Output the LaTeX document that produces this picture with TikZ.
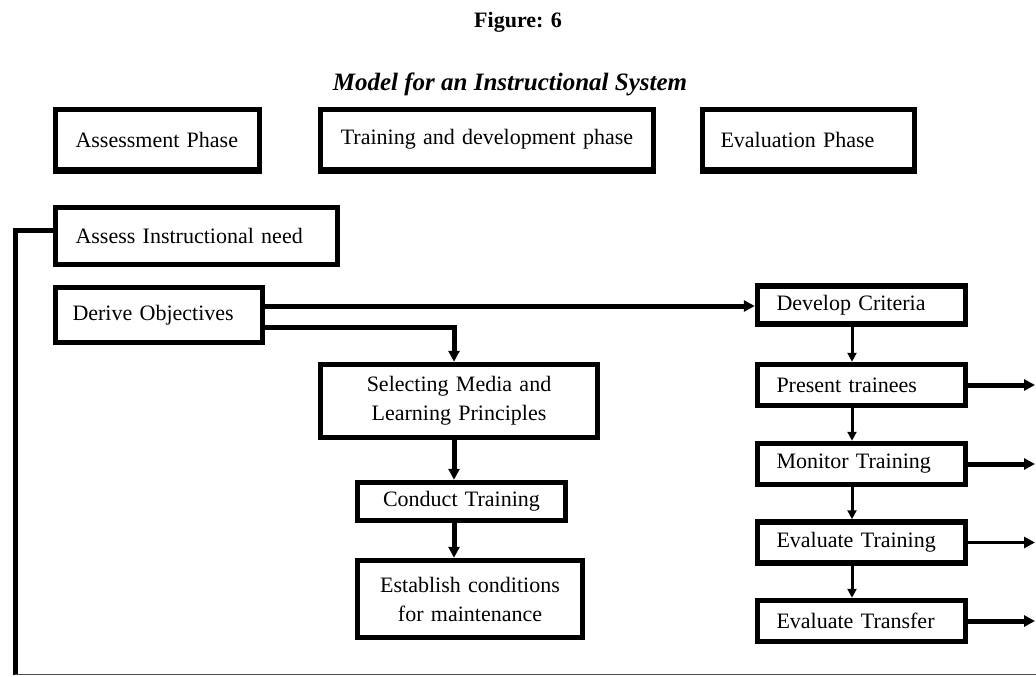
\documentclass[tikz,border=0pt]{standalone}
\usepackage{fontspec}
\setmainfont{Liberation Serif}
\usetikzlibrary{arrows.meta,calc}
\begin{document}
\begin{tikzpicture}[x=1pt,y=-1pt,
  bx/.style={draw,line width=5.5pt,inner xsep=0pt,inner ysep=0pt,font=\fontsize{22}{25}\selectfont},
  lbx/.style={bx,align=left},
  cbx/.style={bx,align=center},
  thk/.style={line width=5pt},
  thn/.style={line width=3pt},
  tipb/.style={-{Triangle[length=11pt,width=11pt]}},
  tips/.style={-{Triangle[length=9pt,width=9pt]}},
  ttl/.style={font=\fontsize{22}{25}\selectfont\bfseries}
]
\useasboundingbox (0,0) rectangle (1036,677);
% titles
\node[ttl] (fig) at (518,22) {Figure: 6};
\node[ttl,font=\fontsize{25}{28}\selectfont\bfseries\itshape] (model) at (510,84) {Model for an Instructional System};
% phase boxes
\node[lbx,minimum width=204pt,minimum height=60pt,text width=164pt] (ap) at (157.5,139.5) {Assessment Phase};
\node[cbx,minimum width=333pt,minimum height=60pt,text width=320pt] (tp) at (487,139.5) {Training and development phase};
\node[lbx,minimum width=212pt,minimum height=60pt,text width=176pt] (ep) at (808.5,139.5) {Evaluation Phase};
\foreach \n in {ap,tp,ep}{\draw[line width=5pt] ([yshift=1pt]\n.south west) -- ([yshift=1pt]\n.south east);}
% assessment column
\node[lbx,minimum width=282pt,minimum height=57pt,text width=242pt] (ain) at (196.5,236) {Assess Instructional need};
\node[lbx,minimum width=207pt,minimum height=55pt,text width=173pt] (do) at (159,315) {Derive Objectives};
% training column
\node[cbx,minimum width=277pt,minimum height=73pt,text width=260pt,font=\fontsize{22}{29}\selectfont] (sm) at (459,401) {Selecting Media and\\Learning Principles};
\node[cbx,minimum width=208pt,minimum height=38pt,text width=200pt] (ct) at (461.5,501.5) {Conduct Training};
\node[cbx,minimum width=225pt,minimum height=77pt,text width=210pt,font=\fontsize{22}{29}\selectfont] (ec) at (470,599) {Establish conditions\\for maintenance};
% evaluation column
\node[lbx,minimum width=208pt,minimum height=38pt,text width=170pt] (dc) at (861.5,305) {Develop Criteria};
\node[lbx,minimum width=208pt,minimum height=41pt,text width=170pt] (pt) at (861.5,385) {Present trainees};
\node[lbx,minimum width=208pt,minimum height=41pt,text width=170pt] (mt) at (861.5,464) {Monitor Training};
\node[lbx,minimum width=208pt,minimum height=41pt,text width=170pt] (et) at (861.5,542.5) {Evaluate Training};
\node[lbx,minimum width=208pt,minimum height=41pt,text width=170pt] (etr) at (861.5,621) {Evaluate Transfer};
% helper coordinates
\coordinate (vx) at (454,0);
\coordinate (rx) at (852,0);
\coordinate (edge) at (1035,0);
\coordinate (fbx) at (15,0);
\coordinate (bot) at (0,674.5);
\coordinate (botr) at (1036,674.5);
% connectors
\draw[thk,tipb] ([yshift=9pt]do.east) -- ([yshift=9pt]do.east -| dc.west);
\draw[thk,tipb] ([yshift=-12pt]do.east) -| (sm.north -| vx);
\draw[thk,tipb] (sm.south -| vx) -- (ct.north -| vx);
\draw[thk,tipb] (ct.south -| vx) -- (ec.north -| vx);
\draw[thn,tips] (dc.south -| rx) -- (pt.north -| rx);
\draw[thn,tips] (pt.south -| rx) -- (mt.north -| rx);
\draw[thn,tips] (mt.south -| rx) -- (et.north -| rx);
\draw[thn,tips] (et.south -| rx) -- (etr.north -| rx);
\draw[thk,tipb] (pt.east) -- (pt.east -| edge);
\draw[thk,tipb] (mt.east) -- (mt.east -| edge);
\draw[thn,tipb] (et.east) -- (et.east -| edge);
\draw[thk,tipb] (etr.east) -- (etr.east -| edge);
% feedback loop
\draw[thk] ([yshift=6pt]ain.west) -- ([yshift=6pt]ain.west -| fbx) -- (fbx |- bot);
\draw[line width=1.5pt,black!70] (fbx |- bot) -- (botr);
\end{tikzpicture}
\end{document}
